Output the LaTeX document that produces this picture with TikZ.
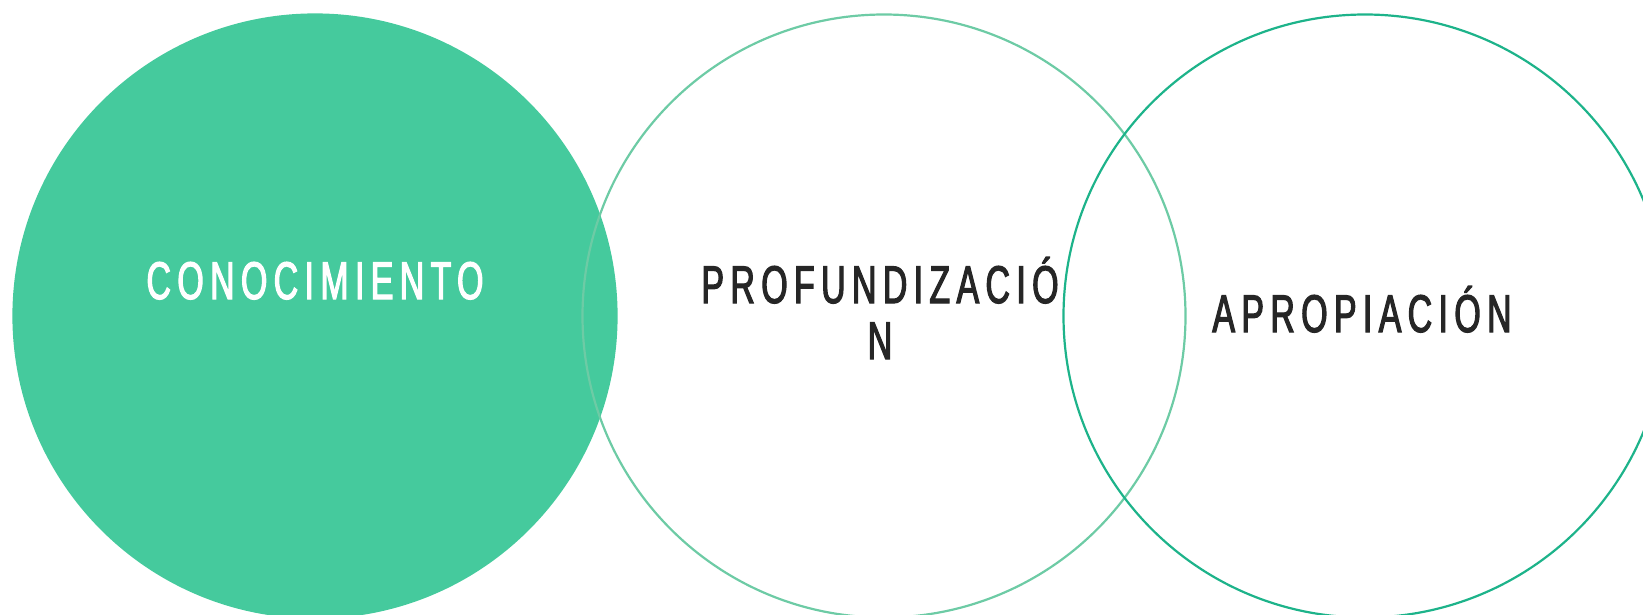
\documentclass[tikz,border=0pt]{standalone}
\usepackage{fontspec}
\newfontfamily\lblfont{Liberation Sans}[FakeStretch=0.64,LetterSpace=12,FakeBold=2.2]
\definecolor{fillgreen}{HTML}{45CA9D}
\definecolor{lightline}{HTML}{6DCBA5}
\definecolor{darkline}{HTML}{1DB38A}
\definecolor{txtdark}{HTML}{262626}
\begin{document}
\begin{tikzpicture}[x=1pt,y=-1pt,
  venn/.style={circle,minimum size=603pt,inner sep=0pt,line width=2.2pt},
  lbl/.style={font=\lblfont\fontsize{53}{56}\selectfont,align=center,inner sep=0pt}]
\useasboundingbox (0,0) rectangle (1643,614);
\node[venn,fill=fillgreen,draw=fillgreen] (c1) at (315,316) {};
\node[venn,draw=lightline] (c2) at (884,316) {};
\node[venn,draw=darkline] (c3) at (1365,316) {};
\node[lbl,text=white,anchor=base] (t1) at (315,299) {CONOCIMIENTO};
\node[lbl,text=txtdark,anchor=base] (t2) at (880,359) {PROFUNDIZACIÓ\\N};
\node[lbl,text=txtdark,anchor=base] (t3) at (1362,332) {APROPIACIÓN};
\end{tikzpicture}
\end{document}
